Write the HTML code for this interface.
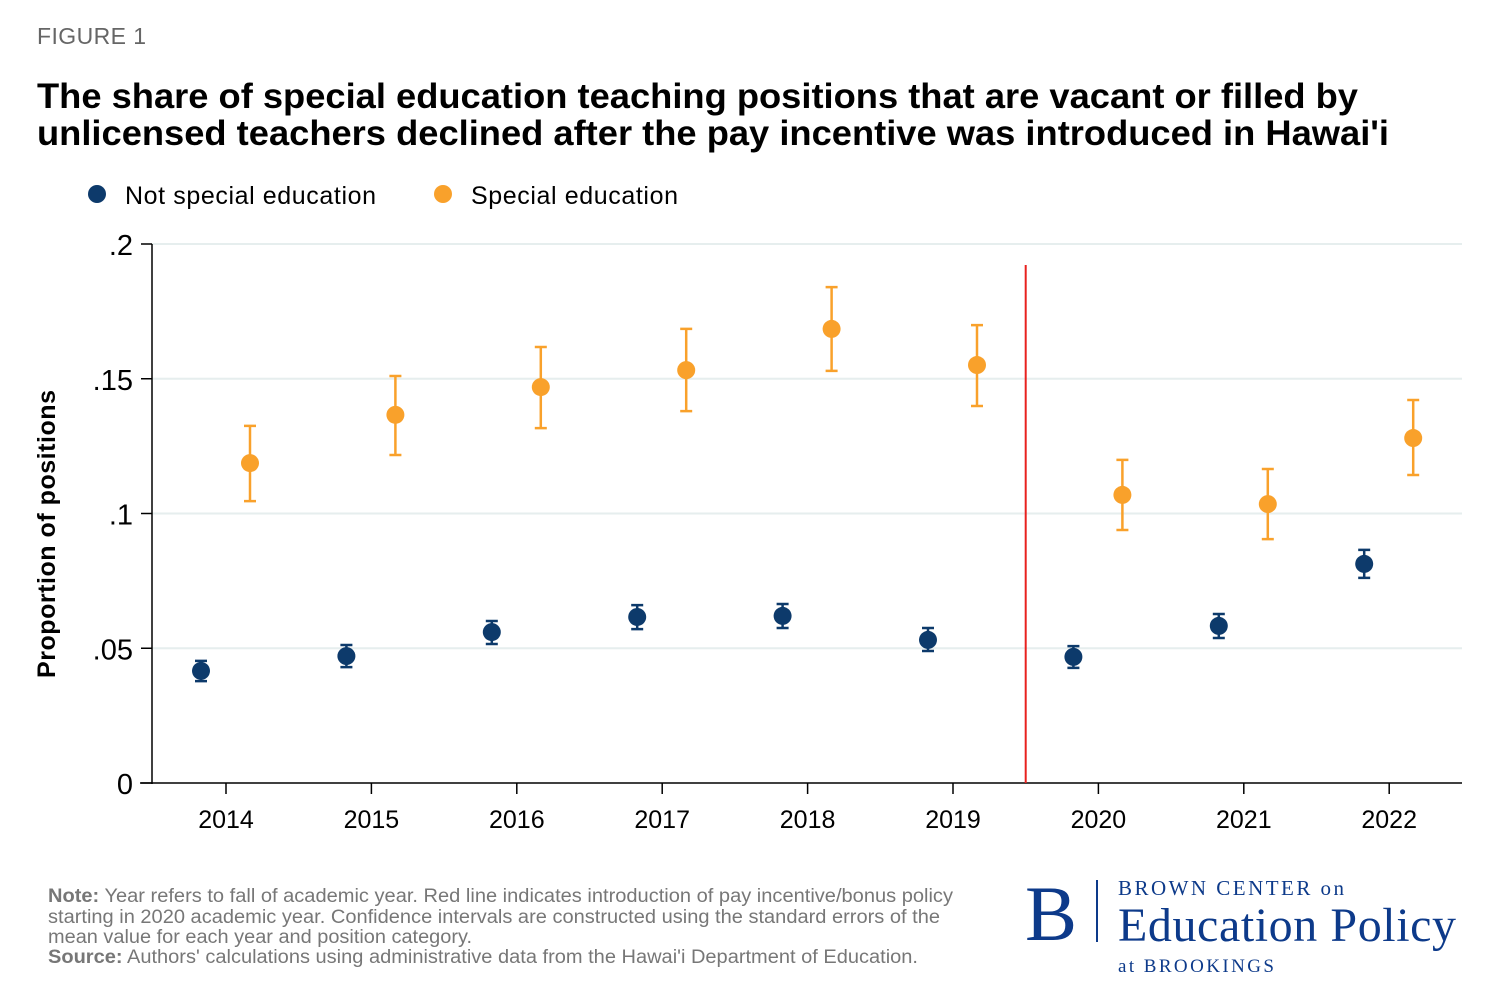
<!DOCTYPE html>
<html><head><meta charset="utf-8"><style>
body{margin:0;background:#fff;width:1499px;height:1003px;overflow:hidden;font-family:"Liberation Sans",sans-serif;}
svg{position:absolute;left:0;top:0}
</style></head><body>
<svg width="1499" height="1003">
<text x="37" y="44" font-size="23" fill="#666" textLength="109">FIGURE 1</text>
<text x="37" y="108" font-size="35" font-weight="bold" fill="#000" textLength="1321" lengthAdjust="spacingAndGlyphs">The share of special education teaching positions that are vacant or filled by</text>
<text x="37" y="145" font-size="35" font-weight="bold" fill="#000" textLength="1352" lengthAdjust="spacingAndGlyphs">unlicensed teachers declined after the pay incentive was introduced in Hawai'i</text>
<circle cx="97" cy="194" r="9" fill="#0d3a6b"/>
<text x="125" y="204" font-size="25" textLength="251">Not special education</text>
<circle cx="443" cy="194" r="9" fill="#f9a12b"/>
<text x="471" y="204" font-size="25" textLength="207">Special education</text>
<g id="plot"></g>
<text transform="translate(55,534) rotate(-90)" text-anchor="middle" font-size="25" font-weight="bold" textLength="288">Proportion of positions</text>
<text x="48" y="902" font-size="19" fill="#777" textLength="905" lengthAdjust="spacingAndGlyphs"><tspan font-weight="bold">Note:</tspan> Year refers to fall of academic year. Red line indicates introduction of pay incentive/bonus policy</text>
<text x="48" y="923" font-size="19" fill="#777" textLength="892" lengthAdjust="spacingAndGlyphs">starting in 2020 academic year. Confidence intervals are constructed using the standard errors of the</text>
<text x="48" y="943" font-size="19" fill="#777" textLength="424" lengthAdjust="spacingAndGlyphs">mean value for each year and position category.</text>
<text x="48" y="963" font-size="19" fill="#777" textLength="870" lengthAdjust="spacingAndGlyphs"><tspan font-weight="bold">Source:</tspan> Authors' calculations using administrative data from the Hawai'i Department of Education.</text>
<text x="1025" y="940" font-size="78" font-family="Liberation Serif,serif" fill="#0d3a8a">B</text>
<line x1="1097" y1="880" x2="1097" y2="942" stroke="#0d3a8a" stroke-width="2"/>
<text x="1118" y="895" font-size="21" font-family="Liberation Serif,serif" fill="#0d3a8a" textLength="226">BROWN CENTER on</text>
<text x="1118" y="941" font-size="48" font-family="Liberation Serif,serif" fill="#0d3a8a" textLength="338">Education Policy</text>
<text x="1118" y="972" font-size="19" font-family="Liberation Serif,serif" fill="#0d3a8a" textLength="156">at BROOKINGS</text>
</svg>
<script>
const years=[2014,2015,2016,2017,2018,2019,2020,2021,2022];
const nsMean=[.0416,.0471,.0560,.0616,.0620,.0531,.0468,.0583,.0813];
const nsLo=[.0378,.0430,.0516,.0571,.0575,.0490,.0427,.0538,.0761];
const nsHi=[.0453,.0512,.0601,.0660,.0664,.0575,.0508,.0627,.0865];
const spMean=[.1187,.1366,.1469,.1532,.1685,.1551,.1069,.1035,.1280];
const spLo=[.1046,.1217,.1317,.1380,.1529,.1399,.0939,.0905,.1143];
const spHi=[.1325,.1510,.1618,.1685,.1840,.1699,.1199,.1165,.1421];
const yTicks=[0,.05,.1,.15,.2];
const yTickLabels=["0",".05",".1",".15",".2"];
const policyYear=2019.5;
const X=v=>226+(v-2014)*145.4;
const Y=v=>783-v*2695;
const g=document.getElementById('plot');
const NS='http://www.w3.org/2000/svg';
function mk(t,a){const e=document.createElementNS(NS,t);for(const k in a)e.setAttribute(k,a[k]);g.appendChild(e);return e;}
yTicks.forEach((t,i)=>{
 if(t>0){const l=mk('line',{x1:152,x2:1462,y1:Y(t),y2:Y(t),stroke:'#e6eeee','stroke-width':2});
 
 }
 const tk=mk('line',{x1:141,x2:152,y1:Y(t),y2:Y(t),stroke:'#000','stroke-width':1.5});
 
 
 const tx=mk('text',{x:133,y:Y(t)+11,'text-anchor':'end','font-size':29});
 tx.textContent=yTickLabels[i];
 
 
});
const ax=mk('line',{x1:152,x2:152,y1:Y(.2),y2:784,stroke:'#000','stroke-width':1.5});


const bx=mk('line',{x1:140,x2:1462,y1:783,y2:783,stroke:'#000','stroke-width':1.5});


years.forEach(y=>{
 const tk=mk('line',{x1:X(y),x2:X(y),y1:783,y2:794,stroke:'#000','stroke-width':1.5});
 
 
 const tx=mk('text',{x:X(y),y:828,'text-anchor':'middle','font-size':25});
 tx.textContent=y;
 
 
});
const rl=mk('line',{x1:X(policyYear),x2:X(policyYear),y1:265,y2:783,stroke:'#e8211e','stroke-width':2});


function series(m,lo,hi,off,col,name){
 years.forEach((y,i)=>{
  const x=X(y)+off;
  const c=mk('path',{d:`M${x-6},${Y(hi[i])}H${x+6}M${x},${Y(hi[i])}V${Y(lo[i])}M${x-6},${Y(lo[i])}H${x+6}`,stroke:col,'stroke-width':2.5,fill:'none'});
  
  
  const p=mk('circle',{cx:x,cy:Y(m[i]),r:9,fill:col});
  
  
 });
}
series(nsMean,nsLo,nsHi,-25,'#0d3a6b','not-special');
series(spMean,spLo,spHi,24,'#f9a12b','special');
</script>
</body></html>
